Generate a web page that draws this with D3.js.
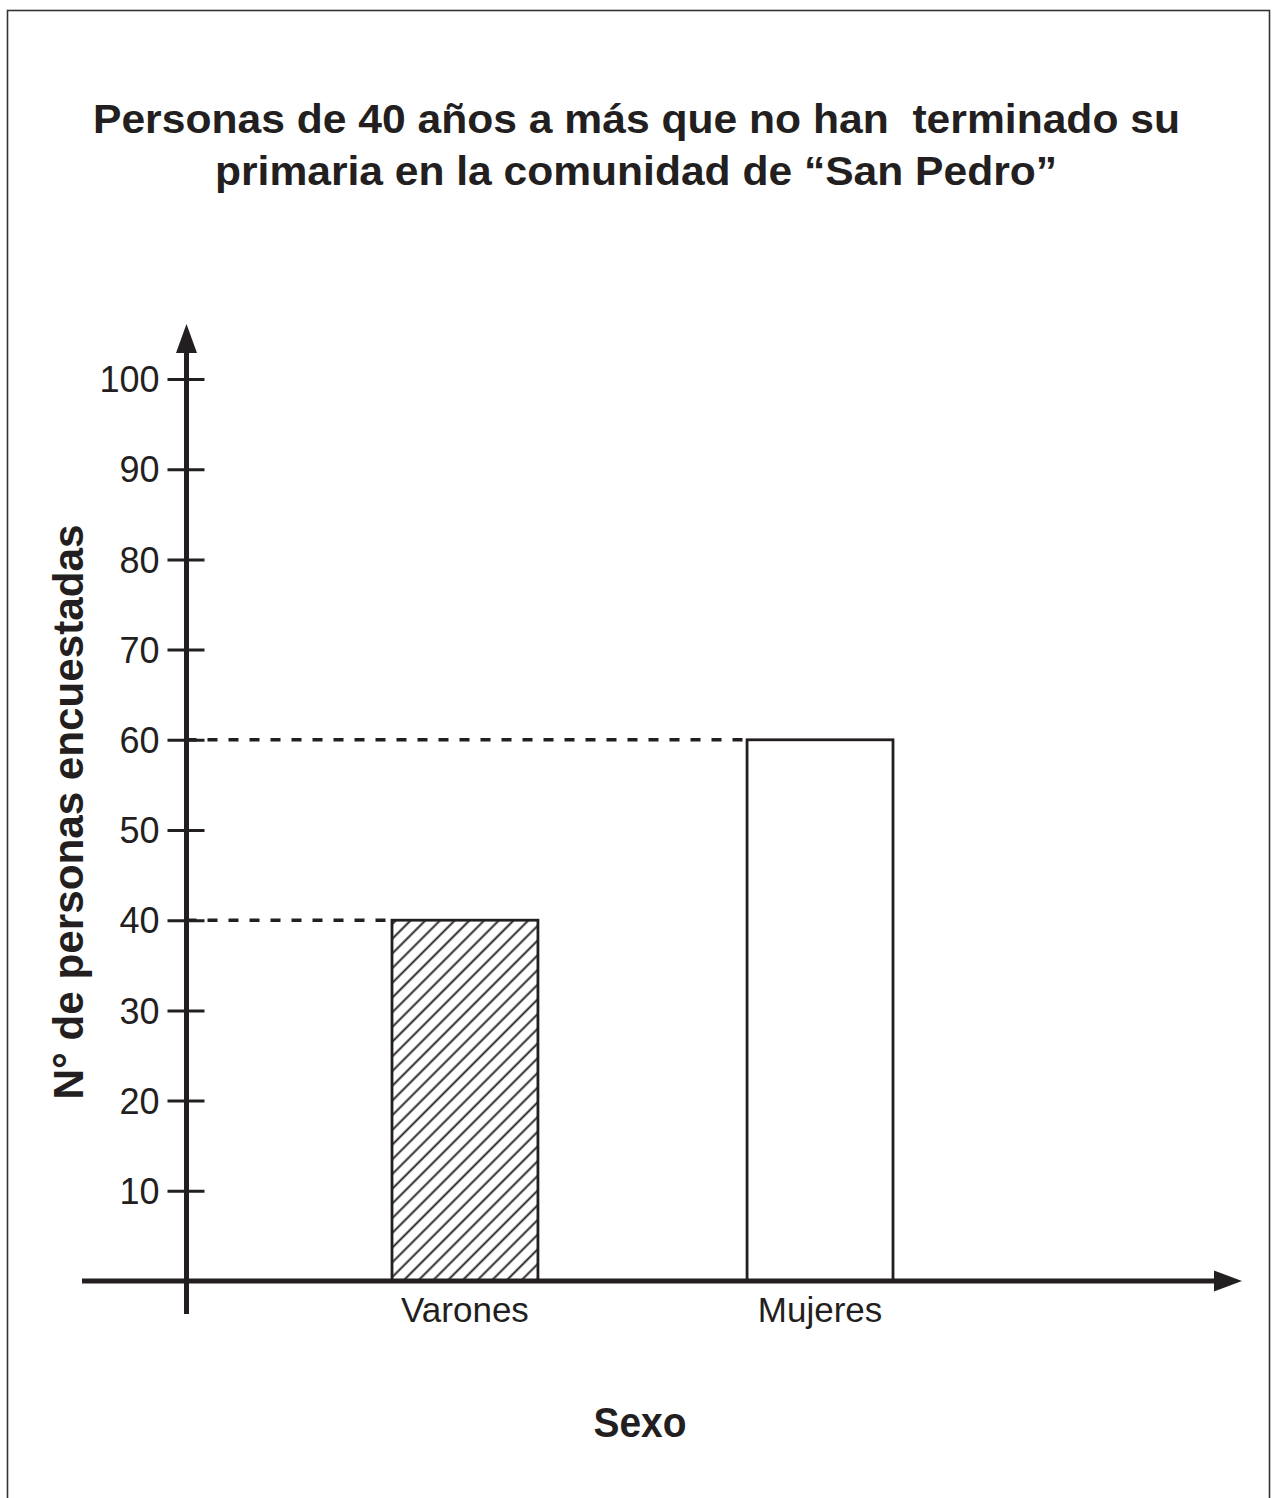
<!DOCTYPE html>
<html>
<head>
<meta charset="utf-8">
<script src="https://cdn.jsdelivr.net/npm/d3@7"></script>
<style>
  html, body { margin: 0; padding: 0; background: #fff; }
  svg { display: block; }
  text { white-space: pre; }
</style>
</head>
<body>
<script>
// ---- Data ----
const categories = ["Varones", "Mujeres"];
const values = [40, 60];
const tickValues = [10, 20, 30, 40, 50, 60, 70, 80, 90, 100];
const titleLines = ["Personas de 40 años a más que no han  terminado su", "primaria en la comunidad de “San Pedro”"];
const yTitle = "N° de personas encuestadas";
const xTitle = "Sexo";

const W = 1272, H = 1498;
const ink = "#231f20";
const font = "'Liberation Sans', Arial, Helvetica, sans-serif";

const svg = d3.select("body").append("svg").attr("width", W).attr("height", H);

// border
svg.append("rect").attr("x", 7.5).attr("y", 10.5).attr("width", 1262).attr("height", 1500)
  .attr("fill", "none").attr("stroke", "#333").attr("stroke-width", 1.6);

// hatch pattern
const defs = svg.append("defs");
const pat = defs.append("pattern").attr("id", "hatch")
  .attr("patternUnits", "userSpaceOnUse").attr("width", 10.4).attr("height", 10.4)
  .attr("patternTransform", "rotate(45)");
pat.append("rect").attr("width", 10.4).attr("height", 10.4).attr("fill", "#fff");
pat.append("line").attr("x1", 5.2).attr("y1", -1).attr("x2", 5.2).attr("y2", 11.4)
  .attr("stroke", ink).attr("stroke-width", 1.9);

// scales
const y = d3.scaleLinear().domain([0, 100]).range([1281, 379]);
const x = d3.scaleBand().domain(categories).range([392, 893]).paddingInner(0.589).paddingOuter(0);
const axisX = 186.5;

// title
function fitText(sel, txt, cx, baseY, size, len) {
  sel.append("text").attr("x", cx - len / 2).attr("y", baseY)
    .attr("font-family", font).attr("font-weight", "bold").attr("font-size", size)
    .attr("fill", ink).attr("textLength", len).attr("lengthAdjust", "spacingAndGlyphs")
    .attr("xml:space", "preserve")
    .text(txt);
}
fitText(svg, titleLines[0], 636.5, 133, 40, 1087);
fitText(svg, titleLines[1], 636, 185, 40, 842);

// dashed guide lines
svg.append("g").selectAll("line").data(categories).join("line")
  .attr("x1", axisX).attr("x2", d => x(d))
  .attr("y1", (d, i) => y(values[i])).attr("y2", (d, i) => y(values[i]))
  .attr("stroke", ink).attr("stroke-width", 3.5).attr("stroke-dasharray", "10,11");

// bars
svg.append("g").selectAll("rect").data(categories).join("rect")
  .attr("x", d => x(d)).attr("width", x.bandwidth())
  .attr("y", (d, i) => y(values[i])).attr("height", (d, i) => y(0) - y(values[i]))
  .attr("fill", (d, i) => i === 0 ? "url(#hatch)" : "#fff")
  .attr("stroke", ink).attr("stroke-width", 2.8);

// y axis ticks and labels
const yAxis = d3.axisLeft(y).tickValues(tickValues).tickSizeInner(19).tickSizeOuter(0).tickPadding(8);
const gy = svg.append("g").attr("transform", `translate(${axisX},0)`).call(yAxis);
gy.select(".domain").remove();
gy.selectAll(".tick line").attr("x1", 18).attr("stroke", ink).attr("stroke-width", 3);
gy.selectAll(".tick text").attr("font-family", font).attr("font-size", 36).attr("fill", ink)
  .attr("dy", "0.35em");

// x axis labels
const xAxis = d3.axisBottom(x).tickSize(0).tickPadding(0);
const gx = svg.append("g").attr("transform", `translate(0,${y(0)})`).call(xAxis);
gx.select(".domain").remove();
gx.selectAll(".tick text").attr("font-family", font).attr("font-size", 35).attr("fill", ink)
  .attr("dy", null).attr("y", 41);

// axis lines
svg.append("line").attr("x1", axisX).attr("x2", axisX).attr("y1", 1314).attr("y2", 350)
  .attr("stroke", ink).attr("stroke-width", 5);
svg.append("line").attr("x1", 82).attr("x2", 1216).attr("y1", y(0)).attr("y2", y(0))
  .attr("stroke", ink).attr("stroke-width", 5);
// arrowheads
svg.append("path").attr("d", `M${axisX},324 L${axisX + 10.5},353 L${axisX - 10.5},353 Z`).attr("fill", ink);
svg.append("path").attr("d", `M1242,${y(0)} L1214,${y(0) - 10.5} L1214,${y(0) + 10.5} Z`).attr("fill", ink);

// axis titles
fitText(svg, xTitle, 640, 1437, 42, 93);
const yt = svg.append("g").attr("transform", "translate(83,812) rotate(-90)");
fitText(yt, yTitle, 0, 0, 42, 575);
</script>
</body>
</html>
